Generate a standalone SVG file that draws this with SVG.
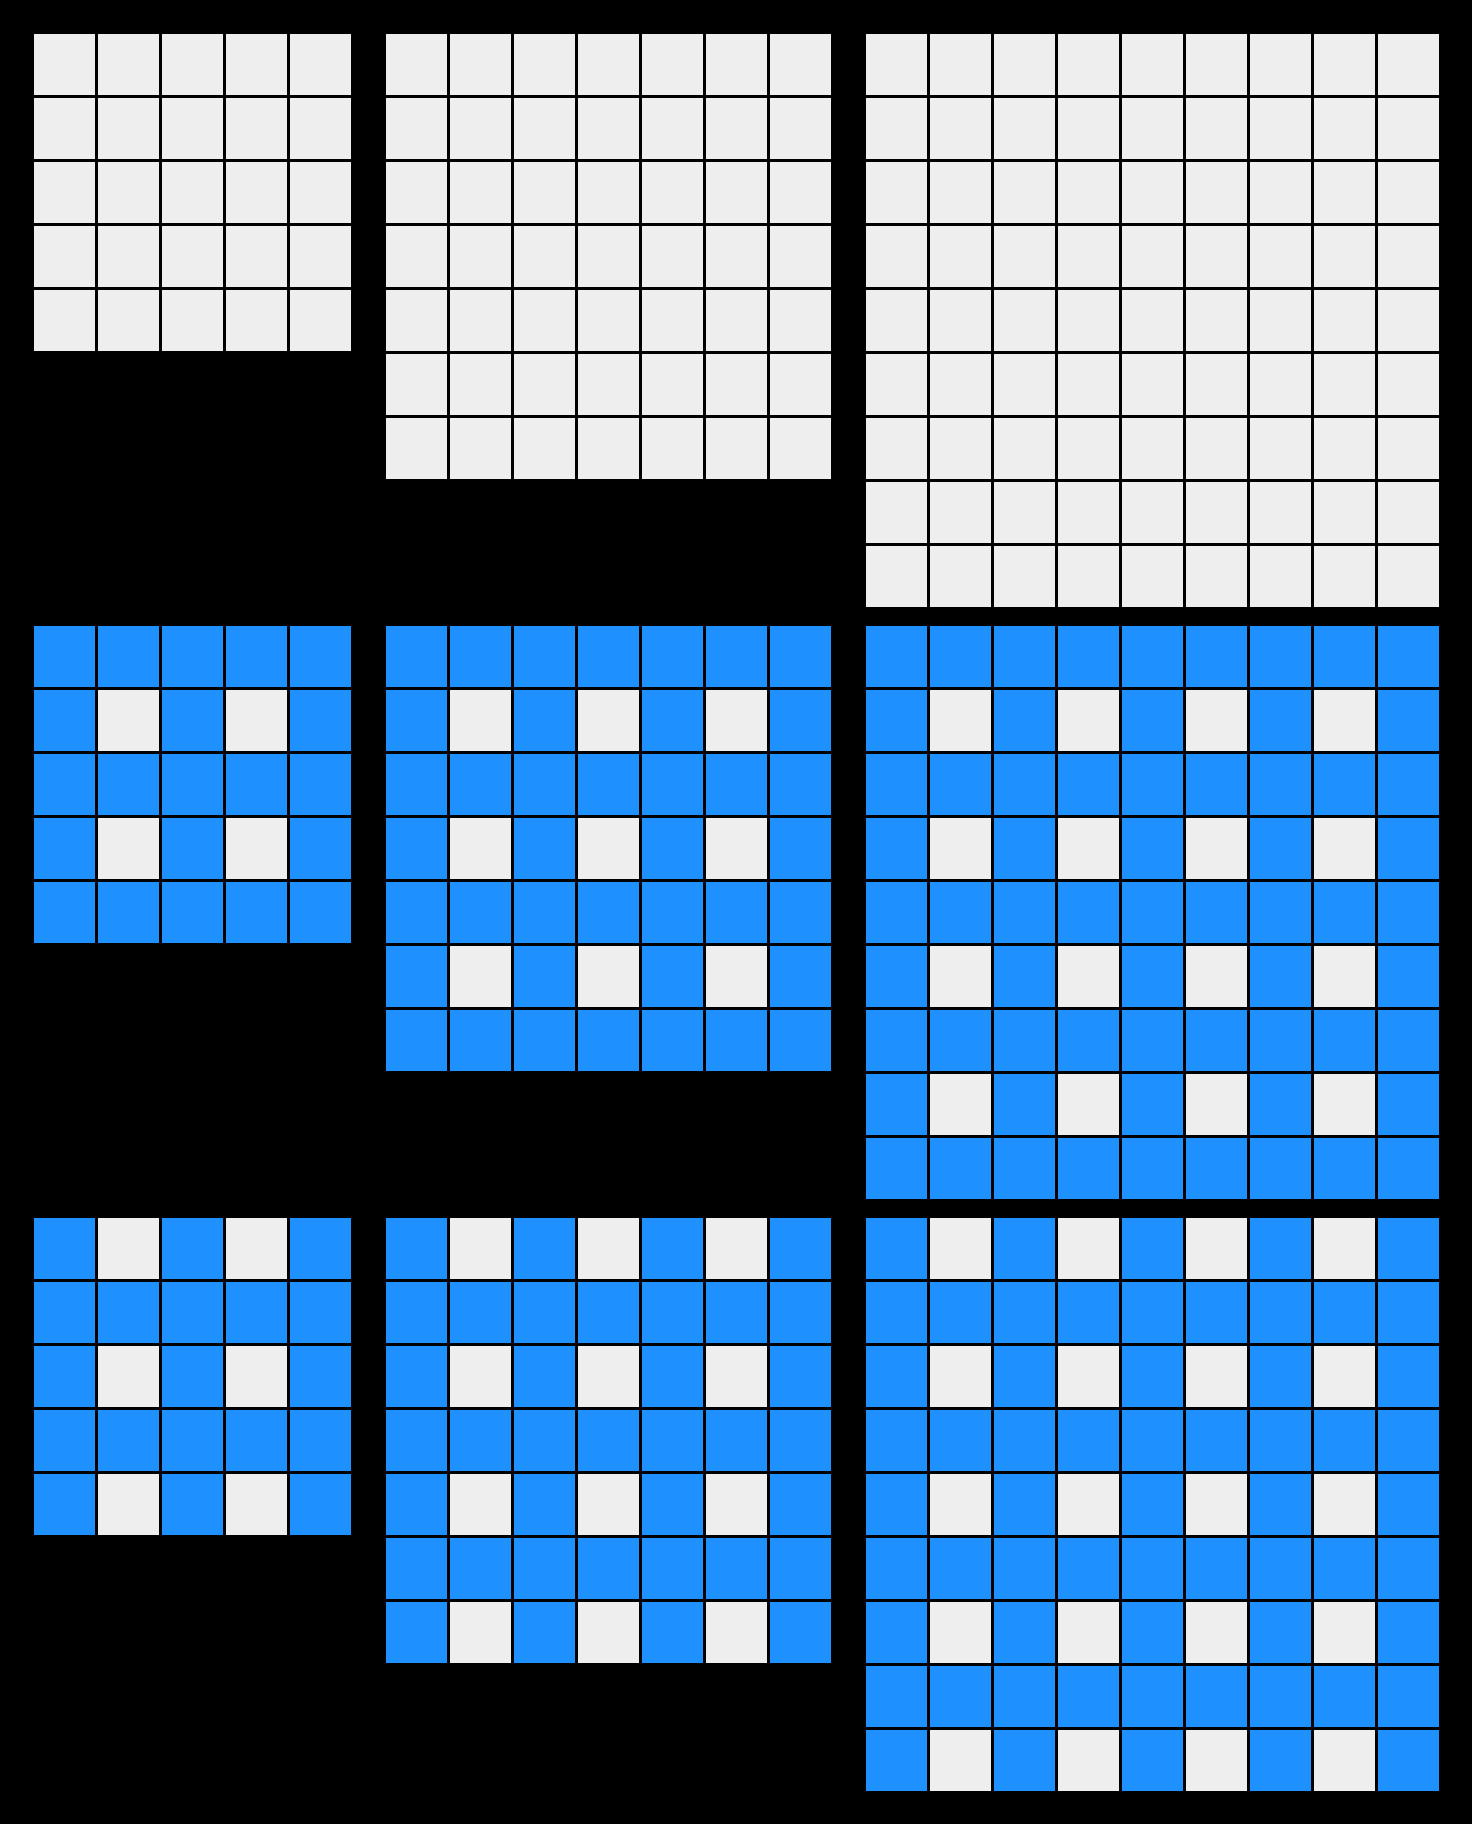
<svg xmlns="http://www.w3.org/2000/svg" xmlns:xlink="http://www.w3.org/1999/xlink" width="1472" height="1824" viewBox="0 0 1472 1824">
<style>
.lt{fill:#eeeeee}
.bl{fill:#1e90ff}
.ln{fill:none;stroke:#000;stroke-width:3}
</style>
<defs>
<path id="L5" class="ln" d="M62.5 0V317M126.5 0V317M190.5 0V317M254.5 0V317M0 62.5H317M0 126.5H317M0 190.5H317M0 254.5H317"/>
<path id="L7" class="ln" d="M62.5 0V445M126.5 0V445M190.5 0V445M254.5 0V445M318.5 0V445M382.5 0V445M0 62.5H445M0 126.5H445M0 190.5H445M0 254.5H445M0 318.5H445M0 382.5H445"/>
<path id="L9" class="ln" d="M62.5 0V573M126.5 0V573M190.5 0V573M254.5 0V573M318.5 0V573M382.5 0V573M446.5 0V573M510.5 0V573M0 62.5H573M0 126.5H573M0 190.5H573M0 254.5H573M0 318.5H573M0 382.5H573M0 446.5H573M0 510.5H573"/>
<rect id="c" class="lt" width="61" height="61"/>
</defs>
<rect width="1472" height="1824" fill="#000"/>

<g id="row1">
<g id="r1g5" transform="translate(34,34)"><rect class="lt" width="317" height="317"/><use xlink:href="#L5"/></g>
<g id="r1g7" transform="translate(386,34)"><rect class="lt" width="445" height="445"/><use xlink:href="#L7"/></g>
<g id="r1g9" transform="translate(866,34)"><rect class="lt" width="573" height="573"/><use xlink:href="#L9"/></g>
</g>

<g id="row2">
<g id="r2g5" transform="translate(34,626)"><rect class="bl" width="317" height="317"/>
<use xlink:href="#c" x="64" y="64"/><use xlink:href="#c" x="192" y="64"/>
<use xlink:href="#c" x="64" y="192"/><use xlink:href="#c" x="192" y="192"/>
<use xlink:href="#L5"/></g>
<g id="r2g7" transform="translate(386,626)"><rect class="bl" width="445" height="445"/>
<use xlink:href="#c" x="64" y="64"/><use xlink:href="#c" x="192" y="64"/><use xlink:href="#c" x="320" y="64"/>
<use xlink:href="#c" x="64" y="192"/><use xlink:href="#c" x="192" y="192"/><use xlink:href="#c" x="320" y="192"/>
<use xlink:href="#c" x="64" y="320"/><use xlink:href="#c" x="192" y="320"/><use xlink:href="#c" x="320" y="320"/>
<use xlink:href="#L7"/></g>
<g id="r2g9" transform="translate(866,626)"><rect class="bl" width="573" height="573"/>
<use xlink:href="#c" x="64" y="64"/><use xlink:href="#c" x="192" y="64"/><use xlink:href="#c" x="320" y="64"/><use xlink:href="#c" x="448" y="64"/>
<use xlink:href="#c" x="64" y="192"/><use xlink:href="#c" x="192" y="192"/><use xlink:href="#c" x="320" y="192"/><use xlink:href="#c" x="448" y="192"/>
<use xlink:href="#c" x="64" y="320"/><use xlink:href="#c" x="192" y="320"/><use xlink:href="#c" x="320" y="320"/><use xlink:href="#c" x="448" y="320"/>
<use xlink:href="#c" x="64" y="448"/><use xlink:href="#c" x="192" y="448"/><use xlink:href="#c" x="320" y="448"/><use xlink:href="#c" x="448" y="448"/>
<use xlink:href="#L9"/></g>
</g>

<g id="row3">
<g id="r3g5" transform="translate(34,1218)"><rect class="bl" width="317" height="317"/>
<use xlink:href="#c" x="64" y="0"/><use xlink:href="#c" x="192" y="0"/>
<use xlink:href="#c" x="64" y="128"/><use xlink:href="#c" x="192" y="128"/>
<use xlink:href="#c" x="64" y="256"/><use xlink:href="#c" x="192" y="256"/>
<use xlink:href="#L5"/></g>
<g id="r3g7" transform="translate(386,1218)"><rect class="bl" width="445" height="445"/>
<use xlink:href="#c" x="64" y="0"/><use xlink:href="#c" x="192" y="0"/><use xlink:href="#c" x="320" y="0"/>
<use xlink:href="#c" x="64" y="128"/><use xlink:href="#c" x="192" y="128"/><use xlink:href="#c" x="320" y="128"/>
<use xlink:href="#c" x="64" y="256"/><use xlink:href="#c" x="192" y="256"/><use xlink:href="#c" x="320" y="256"/>
<use xlink:href="#c" x="64" y="384"/><use xlink:href="#c" x="192" y="384"/><use xlink:href="#c" x="320" y="384"/>
<use xlink:href="#L7"/></g>
<g id="r3g9" transform="translate(866,1218)"><rect class="bl" width="573" height="573"/>
<use xlink:href="#c" x="64" y="0"/><use xlink:href="#c" x="192" y="0"/><use xlink:href="#c" x="320" y="0"/><use xlink:href="#c" x="448" y="0"/>
<use xlink:href="#c" x="64" y="128"/><use xlink:href="#c" x="192" y="128"/><use xlink:href="#c" x="320" y="128"/><use xlink:href="#c" x="448" y="128"/>
<use xlink:href="#c" x="64" y="256"/><use xlink:href="#c" x="192" y="256"/><use xlink:href="#c" x="320" y="256"/><use xlink:href="#c" x="448" y="256"/>
<use xlink:href="#c" x="64" y="384"/><use xlink:href="#c" x="192" y="384"/><use xlink:href="#c" x="320" y="384"/><use xlink:href="#c" x="448" y="384"/>
<use xlink:href="#c" x="64" y="512"/><use xlink:href="#c" x="192" y="512"/><use xlink:href="#c" x="320" y="512"/><use xlink:href="#c" x="448" y="512"/>
<use xlink:href="#L9"/></g>
</g>
</svg>
